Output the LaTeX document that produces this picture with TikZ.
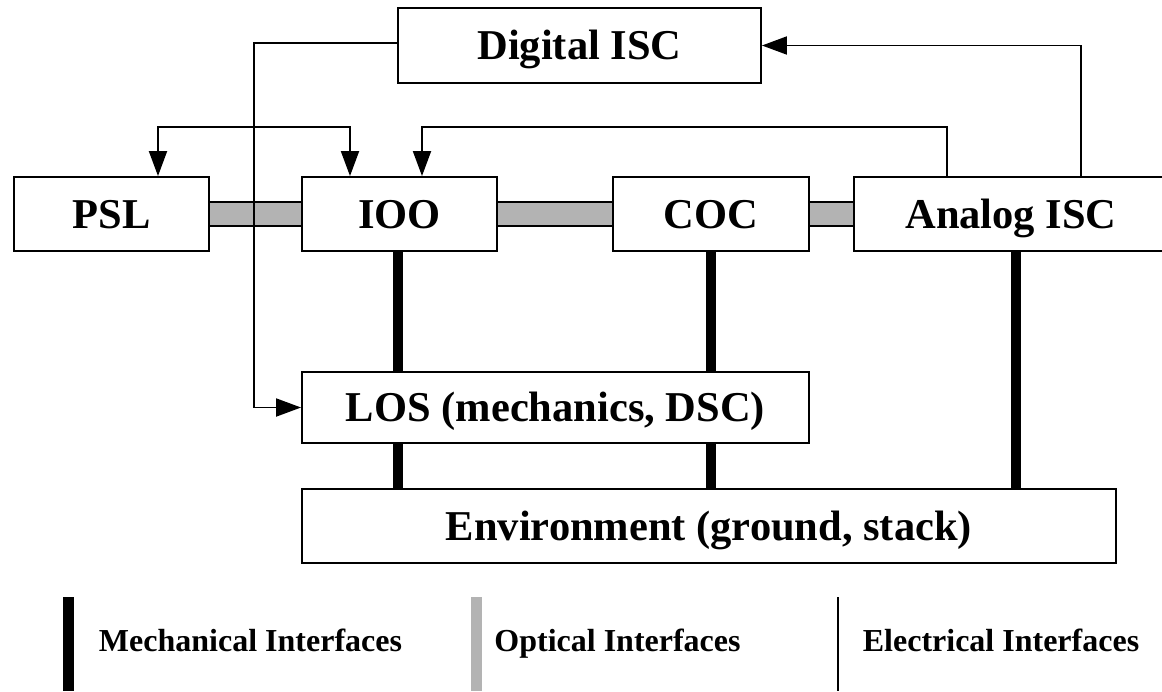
\documentclass[tikz,border=0pt]{standalone}
\usepackage{fontspec}
\setmainfont{Liberation Serif}
\usetikzlibrary{arrows.meta,calc}
\definecolor{optgray}{RGB}{179,179,179}
\begin{document}
\begin{tikzpicture}[x=1pt,y=-1pt,
  >={Triangle[length=25pt,width=18pt]},
  box/.style={draw, line width=1.9pt, fill=white, inner sep=0pt,
    text height=28pt, text depth=0pt,
    font=\fontsize{42.5}{48}\selectfont\bfseries},
  elec/.style={line width=1.9pt},
  mech/.style={line width=10.5pt},
  optical/.style={double=optgray, double distance=22.2pt, line width=1.9pt},
  legend/.style={inner sep=0pt, text height=21pt, text depth=0pt,
    font=\fontsize{32}{36}\selectfont\bfseries}]
\useasboundingbox (0,0) rectangle (1162,691);

% subsystem blocks
\node[box, minimum width=363pt, minimum height=75pt] (dsc) at (579.5,45.5) {Digital ISC};
\node[box, minimum width=195pt, minimum height=74pt] (psl) at (111.5,214) {PSL};
\node[box, minimum width=195pt, minimum height=74pt] (ioo) at (399.5,214) {IOO};
\node[box, minimum width=196pt, minimum height=74pt] (coc) at (711,214) {COC};
\node[box, minimum width=314pt, minimum height=74pt] (asc) at (1011,214) {Analog ISC};
\node[box, minimum width=507pt, minimum height=71pt] (los) at (555.5,407.5) {LOS (mechanics, DSC)};
\node[box, minimum width=814pt, minimum height=74pt] (env) at (709,526) {Environment (ground, stack)};

% mechanical interfaces
\coordinate (m1) at ([xshift=-1.5pt]ioo.south);
\coordinate (m3) at ([xshift=5pt]asc.south);
\draw[mech] (m1) -- (m1 |- los.north);
\draw[mech] (m1 |- los.south) -- (m1 |- env.north);
\draw[mech] (coc.south) -- (coc.south |- los.north);
\draw[mech] (coc.south |- los.south) -- (coc.south |- env.north);
\draw[mech] (m3) -- (m3 |- env.north);

% optical interfaces
\draw[optical] (psl.east) -- (ioo.west);
\draw[optical] (ioo.east) -- (coc.west);
\draw[optical] (coc.east) -- (asc.west);

% electrical interfaces
\coordinate (elbow) at (254,0);
\draw[elec,->] ([yshift=2.5pt]dsc.west) -| (elbow |- los.west) -- (los.west);
\draw[elec,<->] ([xshift=46.5pt]psl.north) -- ++(0,-49) -| ([xshift=-49.5pt]ioo.north);
\draw[elec,->] ([xshift=-64pt]asc.north) -- ++(0,-49) -| ([xshift=22.5pt]ioo.north);
\draw[elec,->] ([xshift=70pt]asc.north) |- (dsc.east);

% legend
\draw[line width=11pt] (68.5,597) -- (68.5,691);
\draw[line width=11pt, optgray] (476,597) -- (476,691);
\draw[line width=1.5pt] (838,597) -- (838,691);
\node[legend] (lm) at (250.5,641) {Mechanical Interfaces};
\node[legend] (lo) at (617.5,641) {Optical Interfaces};
\node[legend] (le) at (1001,641) {Electrical Interfaces};
\end{tikzpicture}
\end{document}
